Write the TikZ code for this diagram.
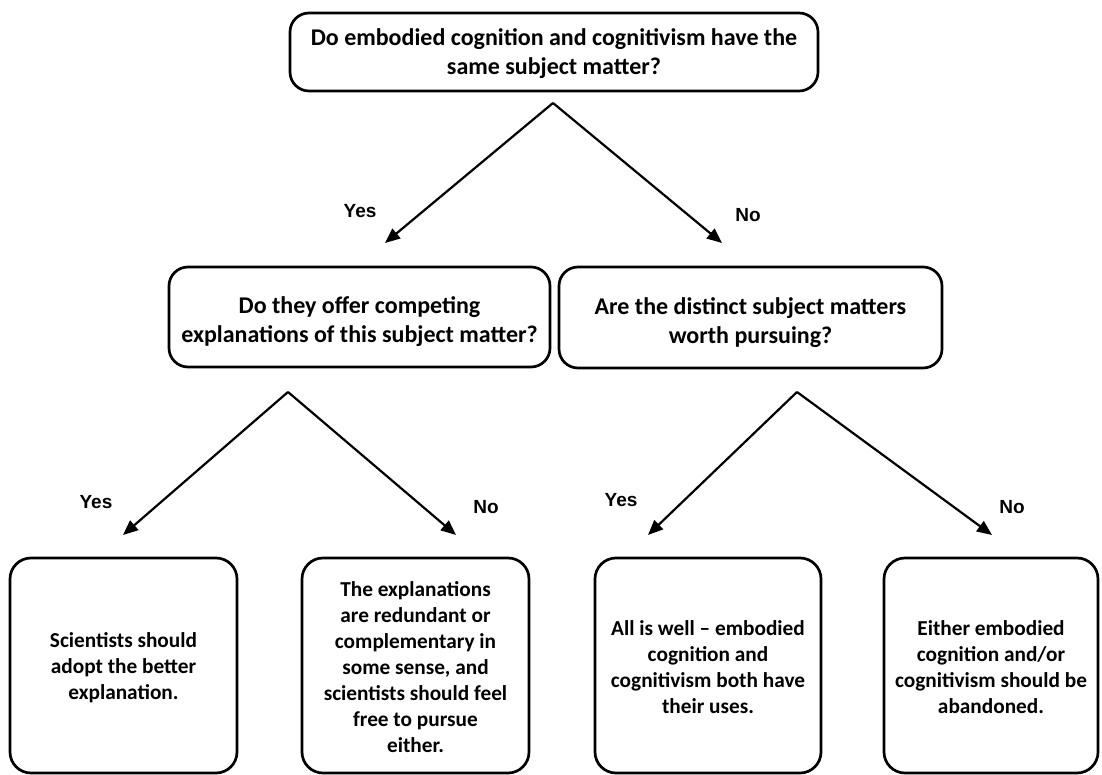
\documentclass[tikz,border=0pt]{standalone}
\usepackage{fontspec}
\setmainfont{Carlito}
\newfontfamily\answerfont{Liberation Sans}
\usetikzlibrary{arrows.meta}

\begin{document}
\begin{tikzpicture}[x=1pt,y=-1pt,
  qbox/.style={draw, line width=2.7pt, rounded corners=19pt, inner sep=0pt},
  qtext/.style={align=center, inner sep=0pt,
    font=\bfseries\fontsize{24}{29}\selectfont},
  leafbox/.style={qbox, minimum height=215pt, rounded corners=21pt},
  leaftext/.style={align=center, inner sep=0pt,
    font=\bfseries\fontsize{21.3}{26}\selectfont},
  link/.style={line width=2.2pt, -{Triangle[length=15pt,width=12.5pt]}},
  answer/.style={font=\answerfont\bfseries\fontsize{19}{21}\selectfont, inner sep=0pt}]
\useasboundingbox (0,0) rectangle (1102,775);

% question boxes
\node[qbox, minimum width=528pt, minimum height=78pt] (q1) at (554,52) {};
\node[qtext] (q1t) at ([yshift=-1.5pt]q1.center)
  {Do embodied cognition and cognitivism have the\\same subject matter?};
\node[qbox, minimum width=381pt, minimum height=100pt] (q2) at (359.5,317) {};
\node[qtext] (q2t) at ([yshift=-5pt]q2.center)
  {Do they offer competing\\explanations of this subject matter?};
\node[qbox, minimum width=383pt, minimum height=101pt] (q3) at (750.5,317.5) {};
\node[qtext] (q3t) at ([yshift=-5pt]q3.center)
  {Are the distinct subject matters\\worth pursuing?};

% outcome boxes
\node[leafbox, minimum width=227pt] (o1) at (123.5,665.5) {};
\node[leaftext] (o1t) at ([yshift=-2pt]o1.center)
  {Scientists should\\adopt the better\\explanation.};
\node[leafbox, minimum width=227pt] (o2) at (415.5,665.5) {};
\node[leaftext] (o2t) at ([yshift=-2pt]o2.center)
  {The explanations\\are redundant or\\complementary in\\some sense, and\\scientists should feel\\free to pursue\\either.};
\node[leafbox, minimum width=226pt] (o3) at (708,665.5) {};
\node[leaftext] (o3t) at ([yshift=-2pt]o3.center)
  {All is well -- embodied\\cognition and\\cognitivism both have\\their uses.};
\node[leafbox, minimum width=214pt] (o4) at (991,665.5) {};
\node[leaftext] (o4t) at ([yshift=-2pt]o4.center)
  {Either embodied\\cognition and/or\\cognitivism should be\\abandoned.};

% branch points and arrow ends
\coordinate (s1) at (553,103);
\coordinate (s1y) at (385,243);
\coordinate (s1n) at (722,243);
\coordinate (s2) at (288,392);
\coordinate (s2y) at (123,535);
\coordinate (s2n) at (456,535);
\coordinate (s3) at (797,392);
\coordinate (s3y) at (648,535);
\coordinate (s3n) at (992,535);

\draw[link] (s1) -- (s1y);
\draw[link] (s1) -- (s1n);
\draw[link] (s2) -- (s2y);
\draw[link] (s2) -- (s2n);
\draw[link] (s3) -- (s3y);
\draw[link] (s3) -- (s3n);

% branch labels
\node[answer] (a1y) at (360,211) {Yes};
\node[answer] (a1n) at (748,215) {No};
\node[answer] (a2y) at (96,502) {Yes};
\node[answer] (a2n) at (486,507) {No};
\node[answer] (a3y) at (621,500) {Yes};
\node[answer] (a3n) at (1012,507) {No};
\end{tikzpicture}
\end{document}
